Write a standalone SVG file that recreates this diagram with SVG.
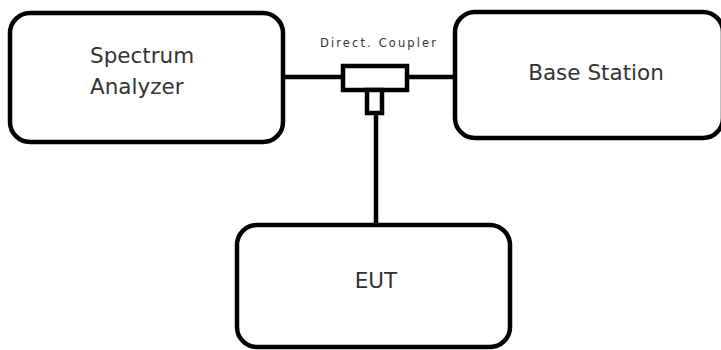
<svg xmlns="http://www.w3.org/2000/svg" width="721" height="350" viewBox="0 0 721 350">
<style>
.box{fill:#fff;stroke:#000;stroke-width:4.5}
.lbl{font-family:"DejaVu Sans",sans-serif;font-size:21.5px;fill:#333}
.wire{stroke:#000;stroke-width:4.5;fill:none}
</style>
<rect width="721" height="350" fill="#fff"/>
<g id="spectrum-analyzer">
<rect class="box" x="10" y="13" width="273" height="129" rx="20"/>
<text class="lbl" x="90" y="63">Spectrum</text>
<text class="lbl" x="90" y="94">Analyzer</text>
</g>
<g id="base-station">
<rect class="box" x="455" y="12" width="268" height="126" rx="20"/>
<text class="lbl" x="596" y="80" text-anchor="middle">Base Station</text>
</g>
<g id="eut">
<rect class="box" x="237" y="225" width="273" height="122" rx="20"/>
<text class="lbl" x="376" y="288" text-anchor="middle">EUT</text>
</g>
<g id="connectors">
<line class="wire" x1="283" y1="77" x2="343" y2="77"/>
<line class="wire" x1="407" y1="77" x2="455" y2="77"/>
<line class="wire" x1="376" y1="113" x2="376" y2="225"/>
</g>
<g id="direct-coupler">
<rect class="box" x="343" y="66" width="64" height="24" stroke-width="4"/>
<rect class="box" x="367" y="90" width="15" height="23" stroke-width="4"/>
<text x="378" y="47" text-anchor="middle" font-family="DejaVu Sans, sans-serif" font-size="11.5" fill="#333" textLength="116" lengthAdjust="spacing">Direct. Coupler</text>
</g>
</svg>
